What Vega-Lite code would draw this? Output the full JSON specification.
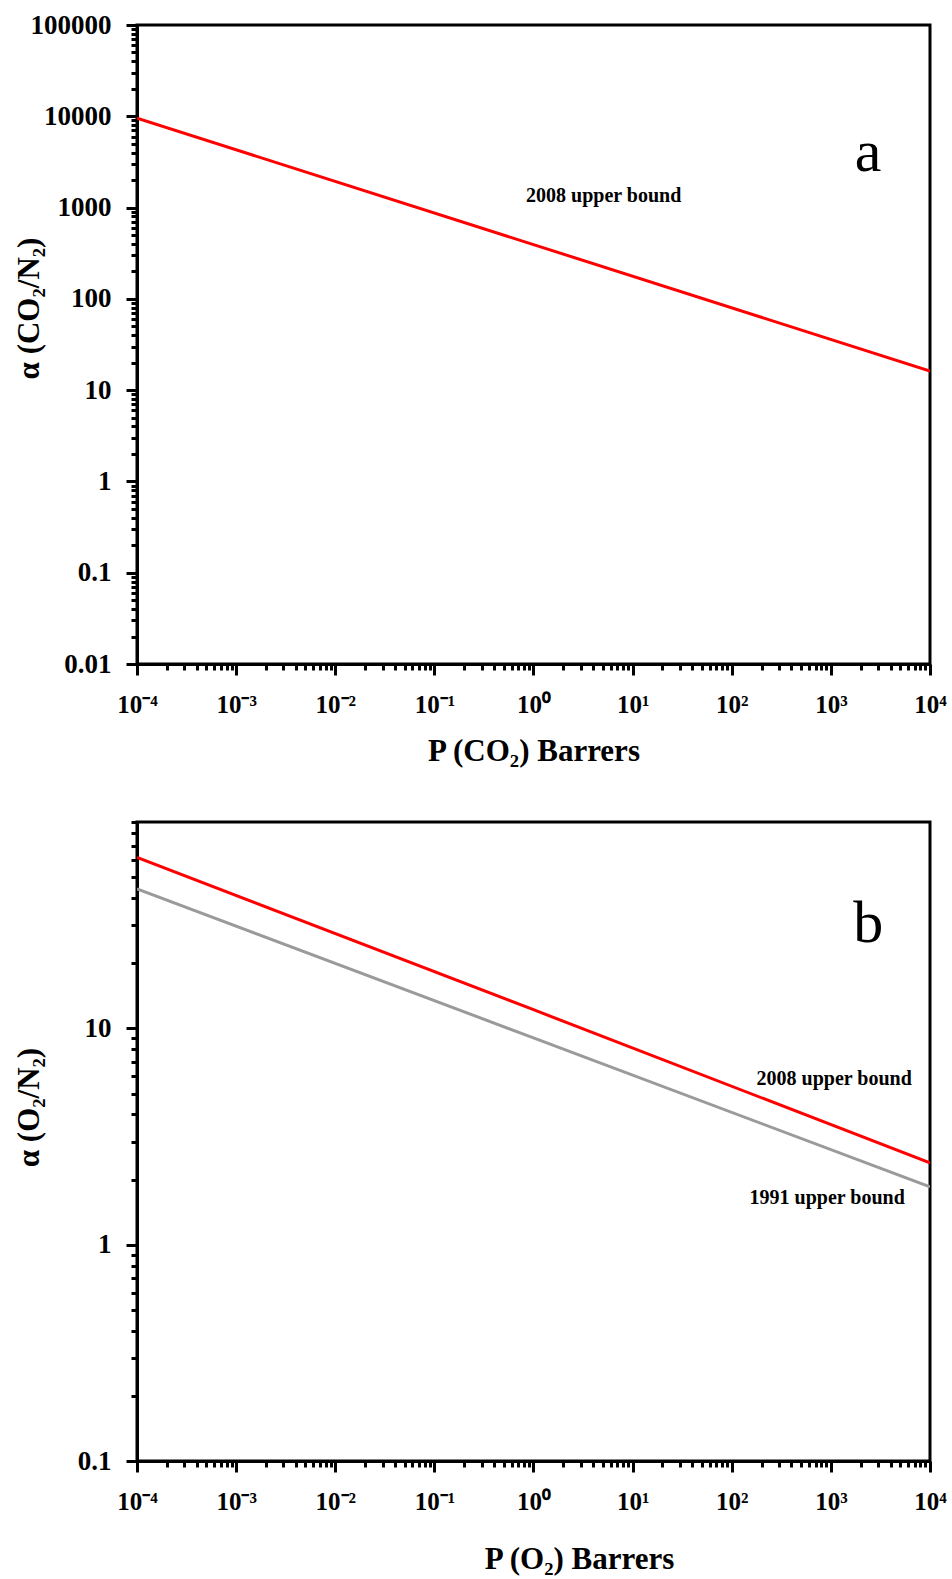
{
  "$schema": "https://vega.github.io/schema/vega-lite/v6.json",
  "background": "white",
  "padding": {"left": 11, "top": 9, "right": 20, "bottom": 2},
  "spacing": 38,
  "config": {
    "view": {"stroke": "black", "strokeWidth": 3},
    "font": "Liberation Serif",
    "axis": {
      "domainColor": "black", "domainWidth": 3,
      "tickColor": "black", "tickWidth": 3,
      "labelFont": "Liberation Serif", "labelFontWeight": "bold", "labelColor": "black",
      "titleFont": "Liberation Serif", "titleFontWeight": "bold", "titleColor": "black",
      "grid": false, "labelFlush": false, "labelOverlap": false, "labelBound": false
    }
  },
  "datasets": {
    "lineA": [
      {"series": "2008", "P": 0.0001, "alpha": 9530},
      {"series": "2008", "P": 1, "alpha": 393},
      {"series": "2008", "P": 10000, "alpha": 16.2}
    ],
    "lineB": [
      {"series": "2008", "P": 0.0001, "alpha": 61.7},
      {"series": "2008", "P": 1, "alpha": 12.2},
      {"series": "2008", "P": 10000, "alpha": 2.39},
      {"series": "1991", "P": 0.0001, "alpha": 44.2},
      {"series": "1991", "P": 1, "alpha": 9.04},
      {"series": "1991", "P": 10000, "alpha": 1.85}
    ],
    "noteA": [{"label": "2008 upper bound", "P": 5.1, "alpha": 1340}],
    "letterA": [{"label": "a", "P": 2377, "alpha": 2513}],
    "noteB": [
      {"label": "2008 upper bound", "P": 1079, "alpha": 5.83},
      {"label": "1991 upper bound", "P": 918, "alpha": 1.64}
    ],
    "letterB": [{"label": "b", "P": 2377, "alpha": 25.1}]
  },
  "vconcat": [
    {
      "width": 793, "height": 639,
      "layer": [
        {
          "data": {"name": "lineA"},
          "mark": {"type": "line", "strokeWidth": 3, "clip": true},
          "encoding": {
            "x": {
              "field": "P", "type": "quantitative",
              "scale": {"type": "log", "domain": [0.0001, 10000], "nice": false},
              "axis": {
                "title": "P (CO₂) Barrers", "titleFontSize": 31, "titleY": 87, "titleBaseline": "middle",
                "labelFontSize": 25, "labelPadding": 17,
                "values": [0.0001,0.0002,0.0003,0.0004,0.0005,0.0006,0.0007,0.0008,0.0009,0.001,0.002,0.003,0.004,0.005,0.006,0.007,0.008,0.009,0.01,0.02,0.03,0.04,0.05,0.06,0.07,0.08,0.09,0.1,0.2,0.3,0.4,0.5,0.6,0.7,0.8,0.9,1,2,3,4,5,6,7,8,9,10,20,30,40,50,60,70,80,90,100,200,300,400,500,600,700,800,900,1000,2000,3000,4000,5000,6000,7000,8000,9000,10000],
                "tickSize": {"condition": {"test": "abs(log(datum.value)/LN10 - round(log(datum.value)/LN10)) < 0.001", "value": 11}, "value": 6},
                "labelExpr": "abs(log(datum.value)/LN10 - round(log(datum.value)/LN10)) < 0.001 ? '10' + ['⁻⁴','⁻³','⁻²','⁻¹','⁰','¹','²','³','⁴'][round(log(datum.value)/LN10) + 4] : ''"
              }
            },
            "y": {
              "field": "alpha", "type": "quantitative",
              "scale": {"type": "log", "domain": [0.01, 100000], "nice": false},
              "axis": {
                "title": "α (CO₂/N₂)", "titleFontSize": 31, "titleX": -108, "titleY": 283, "titleBaseline": "middle", "titleAlign": "center",
                "labelFontSize": 27, "labelPadding": 15,
                "values": [0.01,0.02,0.03,0.04,0.05,0.06,0.07,0.08,0.09,0.1,0.2,0.3,0.4,0.5,0.6,0.7,0.8,0.9,1,2,3,4,5,6,7,8,9,10,20,30,40,50,60,70,80,90,100,200,300,400,500,600,700,800,900,1000,2000,3000,4000,5000,6000,7000,8000,9000,10000,20000,30000,40000,50000,60000,70000,80000,90000,100000],
                "tickSize": {"condition": {"test": "abs(log(datum.value)/LN10 - round(log(datum.value)/LN10)) < 0.001", "value": 11}, "value": 6},
                "labelExpr": "abs(log(datum.value)/LN10 - round(log(datum.value)/LN10)) < 0.001 ? toString(datum.value) : ''"
              }
            },
            "color": {"field": "series", "type": "nominal", "scale": {"domain": ["2008", "1991"], "range": ["#ff0000", "#9a9a9a"]}, "legend": null}
          }
        },
        {
          "data": {"name": "noteA"},
          "mark": {"type": "text", "font": "Liberation Serif", "fontWeight": "bold", "fontSize": 20, "color": "black", "align": "center", "baseline": "middle"},
          "encoding": {
            "x": {"field": "P", "type": "quantitative"},
            "y": {"field": "alpha", "type": "quantitative"},
            "text": {"field": "label"}
          }
        },
        {
          "data": {"name": "letterA"},
          "mark": {"type": "text", "font": "Liberation Serif", "fontSize": 60, "color": "black", "align": "center", "baseline": "alphabetic"},
          "encoding": {
            "x": {"field": "P", "type": "quantitative"},
            "y": {"field": "alpha", "type": "quantitative"},
            "text": {"field": "label"}
          }
        }
      ]
    },
    {
      "width": 793, "height": 639,
      "layer": [
        {
          "data": {"name": "lineB"},
          "mark": {"type": "line", "strokeWidth": 3, "clip": true},
          "encoding": {
            "x": {
              "field": "P", "type": "quantitative",
              "scale": {"type": "log", "domain": [0.0001, 10000], "nice": false},
              "axis": {
                "title": "P (O₂) Barrers", "titleFontSize": 31, "titleY": 98, "titleX": 442, "titleBaseline": "middle", "titleAlign": "center",
                "labelFontSize": 25, "labelPadding": 17,
                "values": [0.0001,0.0002,0.0003,0.0004,0.0005,0.0006,0.0007,0.0008,0.0009,0.001,0.002,0.003,0.004,0.005,0.006,0.007,0.008,0.009,0.01,0.02,0.03,0.04,0.05,0.06,0.07,0.08,0.09,0.1,0.2,0.3,0.4,0.5,0.6,0.7,0.8,0.9,1,2,3,4,5,6,7,8,9,10,20,30,40,50,60,70,80,90,100,200,300,400,500,600,700,800,900,1000,2000,3000,4000,5000,6000,7000,8000,9000,10000],
                "tickSize": {"condition": {"test": "abs(log(datum.value)/LN10 - round(log(datum.value)/LN10)) < 0.001", "value": 11}, "value": 6},
                "labelExpr": "abs(log(datum.value)/LN10 - round(log(datum.value)/LN10)) < 0.001 ? '10' + ['⁻⁴','⁻³','⁻²','⁻¹','⁰','¹','²','³','⁴'][round(log(datum.value)/LN10) + 4] : ''"
              }
            },
            "y": {
              "field": "alpha", "type": "quantitative",
              "scale": {"type": "log", "domain": [0.1, 90], "nice": false},
              "axis": {
                "title": "α (O₂/N₂)", "titleFontSize": 31, "titleX": -108, "titleY": 285, "titleBaseline": "middle", "titleAlign": "center",
                "labelFontSize": 27, "labelPadding": 15,
                "values": [0.1,0.2,0.3,0.4,0.5,0.6,0.7,0.8,0.9,1,2,3,4,5,6,7,8,9,10,20,30,40,50,60,70,80,90],
                "tickSize": {"condition": {"test": "abs(log(datum.value)/LN10 - round(log(datum.value)/LN10)) < 0.001", "value": 11}, "value": 6},
                "labelExpr": "abs(log(datum.value)/LN10 - round(log(datum.value)/LN10)) < 0.001 ? toString(datum.value) : ''"
              }
            },
            "color": {"field": "series", "type": "nominal", "scale": {"domain": ["2008", "1991"], "range": ["#ff0000", "#9a9a9a"]}, "legend": null}
          }
        },
        {
          "data": {"name": "noteB"},
          "mark": {"type": "text", "font": "Liberation Serif", "fontWeight": "bold", "fontSize": 20, "color": "black", "align": "center", "baseline": "middle"},
          "encoding": {
            "x": {"field": "P", "type": "quantitative"},
            "y": {"field": "alpha", "type": "quantitative"},
            "text": {"field": "label"}
          }
        },
        {
          "data": {"name": "letterB"},
          "mark": {"type": "text", "font": "Liberation Serif", "fontSize": 60, "color": "black", "align": "center", "baseline": "alphabetic"},
          "encoding": {
            "x": {"field": "P", "type": "quantitative"},
            "y": {"field": "alpha", "type": "quantitative"},
            "text": {"field": "label"}
          }
        }
      ]
    }
  ]
}
